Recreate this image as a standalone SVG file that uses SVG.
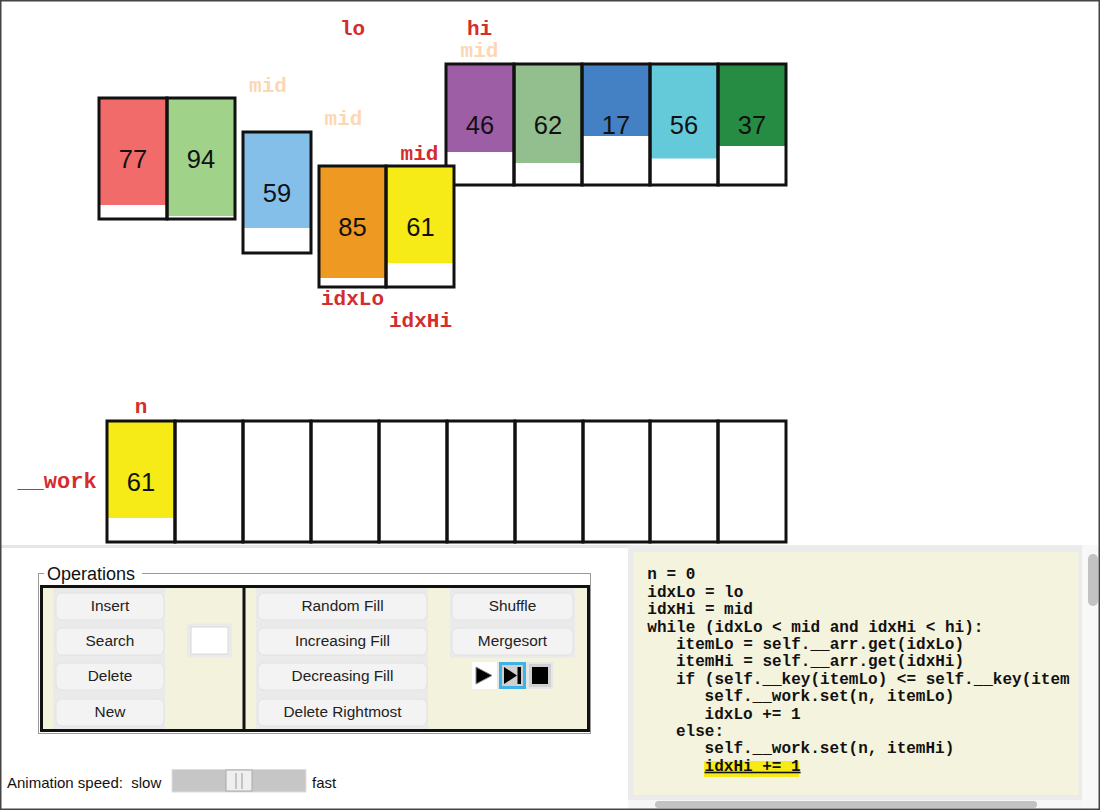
<svg xmlns="http://www.w3.org/2000/svg" width="1100" height="810" viewBox="0 0 1100 810">
<style>
.cell{fill:none;stroke:#111;stroke-width:3}
.num{font-family:"Liberation Sans",Arial,sans-serif;font-size:25.5px;fill:#111;text-anchor:middle}
.lbl{font-family:"Liberation Mono","Courier New",monospace;font-weight:bold;font-size:21px;text-anchor:middle}
.red{fill:#d42d2d}
.pale{fill:#fcd7b3}
.btn{fill:#f3f3f3;stroke:#e2e2e2;stroke-width:1}
.btxt{font-family:"Liberation Sans",Arial,sans-serif;font-size:15.4px;fill:#222;text-anchor:middle}
.col{fill:#eaeaea}
.code{font-family:"Liberation Mono","Courier New",monospace;font-weight:bold;font-size:16px;fill:#111}
.ui{font-family:"Liberation Sans",Arial,sans-serif;font-size:15px;fill:#111}
.ops{font-family:"Liberation Sans",Arial,sans-serif;font-size:18px;fill:#111}
</style>
<rect x="0" y="0" width="1100" height="810" fill="#ffffff"/>

<!-- top-right array (lo..hi) -->
<g id="arr-right">
<rect x="446.5" y="64" width="67" height="88" fill="#9e5ea6"/>
<rect x="514" y="64" width="68" height="99" fill="#93bf8e"/>
<rect x="582.5" y="64" width="67" height="72" fill="#4480c4"/>
<rect x="650" y="64" width="68" height="94.5" fill="#64c9d9"/>
<rect x="718.5" y="64" width="67" height="82" fill="#278c43"/>
<rect class="cell" x="446" y="64" width="68" height="121"/>
<rect class="cell" x="514" y="64" width="68" height="121"/>
<rect class="cell" x="582" y="64" width="68" height="121"/>
<rect class="cell" x="650" y="64" width="68" height="121"/>
<rect class="cell" x="718" y="64" width="68" height="121"/>
<text class="num" x="480" y="134">46</text>
<text class="num" x="548" y="134">62</text>
<text class="num" x="616" y="134">17</text>
<text class="num" x="684" y="134">56</text>
<text class="num" x="752" y="134">37</text>
</g>

<g id="arr-77-94">
<rect x="99" y="98" width="68" height="107" fill="#f26b6b"/>
<rect x="167" y="98" width="67" height="118" fill="#a0d389"/>
<rect class="cell" x="99" y="98" width="68" height="121"/>
<rect class="cell" x="167" y="98" width="68" height="121"/>
<text class="num" x="133" y="168">77</text>
<text class="num" x="201" y="168">94</text>
</g>

<g id="arr-59">
<rect x="243" y="132" width="68" height="96" fill="#83bfe9"/>
<rect class="cell" x="243" y="132" width="68" height="121"/>
<text class="num" x="277" y="202">59</text>
</g>

<g id="arr-85-61">
<rect x="319" y="166" width="67" height="112" fill="#ee9a22"/>
<rect x="386" y="166" width="68" height="97" fill="#f6eb16"/>
<rect class="cell" x="319" y="166" width="67" height="121"/>
<rect class="cell" x="386" y="166" width="68" height="121"/>
<text class="num" x="352.5" y="236">85</text>
<text class="num" x="420.5" y="236">61</text>
</g>

<g id="labels">
<text class="lbl red" x="352.5" y="35">lo</text>
<text class="lbl red" x="479.5" y="35">hi</text>
<text class="lbl pale" x="479.5" y="57">mid</text>
<text class="lbl pale" x="268" y="92">mid</text>
<text class="lbl pale" x="343.5" y="125">mid</text>
<text class="lbl red" x="419.5" y="160">mid</text>
<text class="lbl red" x="352.5" y="305">idxLo</text>
<text class="lbl red" x="420.5" y="327">idxHi</text>
<text class="lbl red" x="141" y="413">n</text>
<text class="lbl red" x="57" y="488" style="font-size:22px">__work</text>
</g>

<g id="work">
<rect x="107.5" y="421" width="67" height="97" fill="#f6eb16"/>
<rect class="cell" x="107" y="421" width="68" height="121"/>
<rect class="cell" x="175" y="421" width="68" height="121"/>
<rect class="cell" x="243" y="421" width="68" height="121"/>
<rect class="cell" x="311" y="421" width="68" height="121"/>
<rect class="cell" x="379" y="421" width="68" height="121"/>
<rect class="cell" x="447" y="421" width="68" height="121"/>
<rect class="cell" x="515" y="421" width="68" height="121"/>
<rect class="cell" x="583" y="421" width="67" height="121"/>
<rect class="cell" x="650" y="421" width="68" height="121"/>
<rect class="cell" x="718" y="421" width="68" height="121"/>
<text class="num" x="141" y="491">61</text>
</g>

<!-- lower panel -->
<rect x="0" y="545" width="628" height="3" fill="#e6e6e6"/>
<g id="code-panel">
<rect x="628" y="545" width="455" height="256" fill="#ebebeb"/>
<rect x="633.5" y="552" width="445" height="243" fill="#f4f3de"/>
<rect x="1082" y="545" width="18" height="265" fill="#f8f8f8"/>
<rect x="1088" y="554" width="10" height="52" rx="5" fill="#c2c2c2"/>
<rect x="628" y="800" width="454" height="10" fill="#f6f6f6"/>
<rect x="655" y="801" width="382" height="7" rx="3.5" fill="#c2c2c2"/>
<rect x="704" y="761" width="95" height="16" fill="#f6eb16"/>
<text class="code" x="647.3" y="579.3">n = 0</text>
<text class="code" x="647.3" y="596.7">idxLo = lo</text>
<text class="code" x="647.3" y="614.1">idxHi = mid</text>
<text class="code" x="647.3" y="631.5">while (idxLo &lt; mid and idxHi &lt; hi):</text>
<text class="code" x="676" y="648.9">itemLo = self.__arr.get(idxLo)</text>
<text class="code" x="676" y="666.3">itemHi = self.__arr.get(idxHi)</text>
<text class="code" x="676" y="683.7">if (self.__key(itemLo) &lt;= self.__key(item</text>
<text class="code" x="704.6" y="701.1">self.__work.set(n, itemLo)</text>
<text class="code" x="704.6" y="718.5">idxLo += 1</text>
<text class="code" x="676" y="735.9">else:</text>
<text class="code" x="704.6" y="753.3">self.__work.set(n, itemHi)</text>
<text class="code" x="704.6" y="770.7" text-decoration="underline">idxHi += 1</text>
</g>

<g id="operations">
<rect x="38.5" y="573.5" width="552" height="160" fill="none" stroke="#9a9a9a" stroke-width="1"/>
<rect x="44" y="564" width="98" height="16" fill="#ffffff"/>
<text class="ops" x="47" y="580">Operations</text>
<rect x="41.5" y="586.5" width="547" height="144" fill="#f3f2dd" stroke="#111" stroke-width="3"/>
<line x1="244" y1="586" x2="244" y2="731" stroke="#111" stroke-width="3"/>
<rect class="col" x="53" y="588" width="112" height="141"/>
<rect class="col" x="256" y="588" width="172" height="141"/>
<rect class="col" x="450" y="588" width="125" height="70"/>
<rect class="col" x="187" y="623.5" width="45" height="34"/>
<rect x="191" y="627" width="37" height="27" fill="#ffffff" stroke="#d8d8d8" stroke-width="1"/>
<g id="btn-insert"><rect class="btn" x="56" y="593" width="108" height="27" rx="6"/><text class="btxt" x="110" y="611">Insert</text></g>
<g id="btn-search"><rect class="btn" x="56" y="628" width="108" height="27" rx="6"/><text class="btxt" x="110" y="646">Search</text></g>
<g id="btn-delete"><rect class="btn" x="56" y="663" width="108" height="27" rx="6"/><text class="btxt" x="110" y="681">Delete</text></g>
<g id="btn-new"><rect class="btn" x="56" y="699" width="108" height="27" rx="6"/><text class="btxt" x="110" y="717">New</text></g>
<g id="btn-random"><rect class="btn" x="258" y="593" width="169" height="27" rx="6"/><text class="btxt" x="342.5" y="611">Random Fill</text></g>
<g id="btn-increasing"><rect class="btn" x="258" y="628" width="169" height="27" rx="6"/><text class="btxt" x="342.5" y="646">Increasing Fill</text></g>
<g id="btn-decreasing"><rect class="btn" x="258" y="663" width="169" height="27" rx="6"/><text class="btxt" x="342.5" y="681">Decreasing Fill</text></g>
<g id="btn-rightmost"><rect class="btn" x="258" y="699" width="169" height="27" rx="6"/><text class="btxt" x="342.5" y="717">Delete Rightmost</text></g>
<g id="btn-shuffle"><rect class="btn" x="452" y="593" width="121" height="27" rx="6"/><text class="btxt" x="512.5" y="611">Shuffle</text></g>
<g id="btn-mergesort"><rect class="btn" x="452" y="628" width="121" height="27" rx="6"/><text class="btxt" x="512.5" y="646">Mergesort</text></g>
<g id="controls">
<rect x="472" y="662" width="81" height="27" fill="#e6e6e6"/>
<rect x="472" y="662" width="25" height="27" fill="#ffffff"/>
<polygon points="476,667 492,675.5 476,684" fill="#000" stroke="#888" stroke-width="1"/>
<rect x="499" y="662" width="27" height="27" fill="#3fb3e6"/>
<rect x="502" y="665" width="21" height="21" fill="#d0d0d0"/>
<polygon points="504,667 517,675.5 504,684" fill="#000"/>
<rect x="517.5" y="667" width="3.5" height="17" fill="#000"/>
<rect x="529" y="664" width="22" height="23" fill="#d0d0d0"/>
<rect x="532" y="667" width="16" height="17" fill="#000"/>
</g>
</g>

<g id="speed">
<text class="ui" x="7" y="788" xml:space="preserve">Animation speed:  slow</text>
<rect x="172" y="769.5" width="134" height="22.5" fill="#c6c6c6" stroke="#dedede" stroke-width="1"/>
<rect x="226" y="770" width="26" height="21" fill="#efefef" stroke="#aaaaaa" stroke-width="1"/>
<line x1="236" y1="773" x2="236" y2="789" stroke="#999" stroke-width="1"/>
<line x1="242" y1="773" x2="242" y2="789" stroke="#999" stroke-width="1"/>
<text class="ui" x="312" y="788">fast</text>
</g>

<rect x="0.75" y="0.75" width="1098.5" height="808.5" fill="none" stroke="#444" stroke-width="1.5"/>
</svg>
